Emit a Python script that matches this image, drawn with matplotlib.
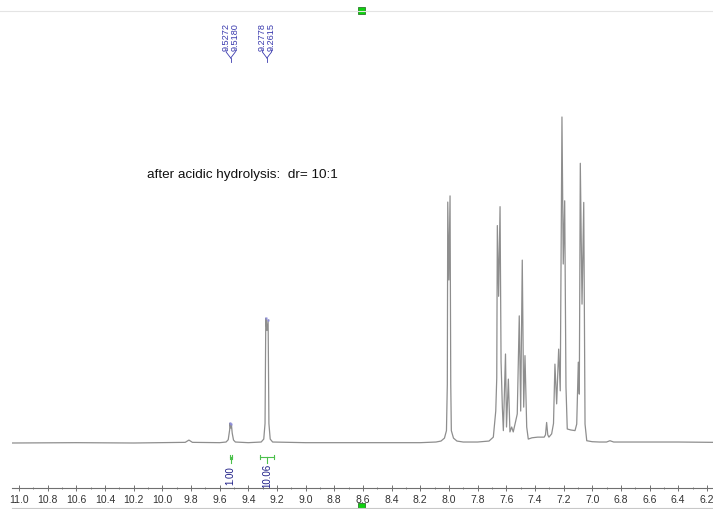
import matplotlib
matplotlib.use('Agg')
import matplotlib.pyplot as plt
from matplotlib.ticker import MultipleLocator, FormatStrFormatter
from matplotlib.transforms import blended_transform_factory
from matplotlib.patches import Rectangle
from matplotlib.lines import Line2D

plt.rcParams['font.family'] = ['Liberation Sans', 'DejaVu Sans']
NARROW = ['Liberation Sans Narrow', 'Liberation Sans', 'DejaVu Sans']

# 1H NMR trace: chemical shift (ppm) / relative intensity (tallest line = 100)
shift = [11.049, 10.60, 10.20, 9.84, 9.814, 9.79, 9.60, 9.555, 9.540, 9.530,
         9.5272, 9.5226, 9.5180, 9.512, 9.503, 9.490, 9.40, 9.310, 9.292, 9.283,
         9.2778, 9.2697, 9.2615, 9.256, 9.247, 9.230, 9.00, 8.60, 8.20, 8.09,
         8.055, 8.031, 8.017, 8.011, 8.008, 8.000, 7.992, 7.987, 7.983, 7.968,
         7.944, 7.90, 7.80, 7.72, 7.690, 7.673, 7.666, 7.662, 7.653, 7.643,
         7.636, 7.627, 7.620, 7.605, 7.598, 7.585, 7.574, 7.562, 7.551, 7.534,
         7.523, 7.509, 7.499, 7.488, 7.478, 7.469, 7.457, 7.446, 7.42, 7.38,
         7.335, 7.326, 7.318, 7.310, 7.302, 7.283, 7.270, 7.260, 7.248, 7.234,
         7.223, 7.211, 7.202, 7.192, 7.183, 7.174, 7.150, 7.120, 7.108, 7.097,
         7.090, 7.083, 7.071, 7.059, 7.050, 7.038, 7.00, 6.95, 6.90, 6.876,
         6.85, 6.60, 6.40, 6.157]
intensity = [0.0, 0.1, 0.0, 0.2, 0.9, 0.2, 0.1, 0.3, 1.0, 4.0,
             6.1, 4.6, 5.8, 3.0, 0.9, 0.3, 0.1, 0.3, 1.2, 6.0,
             38.3, 34.5, 37.8, 6.0, 1.2, 0.3, 0.1, 0.1, 0.1, 0.3,
             0.6, 1.5, 3.8, 18.0, 73.9, 50.0, 75.8, 18.0, 3.8, 1.5,
             0.6, 0.3, 0.3, 0.6, 1.8, 9.8, 20.0, 66.7, 45.0, 72.5,
             25.0, 11.0, 3.8, 27.3, 4.9, 19.6, 3.4, 4.9, 3.4, 6.7,
             8.9, 39.0, 9.8, 56.1, 11.0, 26.8, 4.9, 1.2, 1.6, 1.8,
             1.8, 2.5, 6.3, 2.5, 1.8, 2.8, 6.0, 24.2, 12.0, 28.8,
             16.0, 100.0, 54.9, 74.3, 17.2, 4.3, 4.0, 3.8, 5.8, 24.8,
             15.0, 85.8, 42.6, 73.8, 5.8, 0.7, 0.4, 0.3, 0.3, 0.7,
             0.3, 0.3, 0.3, 0.2]

# peak picking
peak_shift = [9.5272, 9.5180, 9.2778, 9.2615]
peak_height = [6.1, 5.8, 38.3, 37.8]
peak_labels = ['9.5272', '9.5180', '9.2778', '9.2615']

# integrals
integral_from = [9.528, 9.315]
integral_to = [9.516, 9.221]
integral_labels = ['1.00', '10.06']

note = 'after acidic hydrolysis:  dr= 10:1'

W, H = 713, 510
X0 = 12
fig = plt.figure(figsize=(W / 100, H / 100), dpi=100)

ax = fig.add_axes([X0 / W, 0, 1 - X0 / W, 1])
ax.set_xlim(11.0488, 6.157)
ax.set_ylim(-20.245, 136.196)
ax.axis('off')
ax.plot(shift, intensity, color='#8e8e8e', lw=0.9)
ax.plot(peak_shift, peak_height, ls='none', marker='s', ms=1.6, color='#8c8cdc', mec='none')

# y in figure pixels (from top), x in ppm
tr = blended_transform_factory(ax.transData, fig.transFigure)
def fy(y):
    return 1 - y / H

# peak labels with leader lines
blue = '#3a3aae'
for k in range(0, 4, 2):
    centre = (peak_shift[k] + peak_shift[k + 1]) / 2
    for j, dx in zip((k, k + 1), (0.032, -0.032)):
        lx = centre + dx
        ax.text(lx, fy(51), peak_labels[j], transform=tr, rotation=90, ha='center', va='bottom',
                fontsize=6.6, color=blue, family=NARROW)
        ax.add_line(Line2D([lx, lx, centre], [fy(51), fy(53), fy(59)], transform=tr, color=blue, lw=0.6))
    ax.add_line(Line2D([centre, centre], [fy(59), fy(63)], transform=tr, color=blue, lw=0.6))

# integrals
green = '#4cc04c'
for a, b, lab in zip(integral_from, integral_to, integral_labels):
    c = (a + b) / 2
    ax.add_line(Line2D([a, b], [fy(458), fy(458)], transform=tr, color=green, lw=0.8))
    ax.add_line(Line2D([a, a], [fy(456), fy(460)], transform=tr, color=green, lw=0.8))
    ax.add_line(Line2D([b, b], [fy(456), fy(460)], transform=tr, color=green, lw=0.8))
    ax.add_line(Line2D([c, c], [fy(458), fy(464)], transform=tr, color=green, lw=0.8))
    ax.text(c, fy(476), lab, transform=tr, rotation=90, ha='center', va='center',
            fontsize=7, color='#1c1c86', family=NARROW)

fig.text(147 / W, fy(175), note, fontsize=9.7, va='center', ha='left', color='#111111')

# ppm scale
sax = fig.add_axes([X0 / W, fy(489), 1 - X0 / W, 0.5 / H])
sax.set_xlim(ax.get_xlim())
sax.set_yticks([])
for s in ('top', 'left', 'right'):
    sax.spines[s].set_visible(False)
sax.spines['bottom'].set_color('#707070')
sax.spines['bottom'].set_linewidth(0.8)
sax.patch.set_alpha(0)
sax.xaxis.set_major_locator(MultipleLocator(0.2))
sax.xaxis.set_minor_locator(MultipleLocator(0.1))
sax.xaxis.set_major_formatter(FormatStrFormatter('%.1f'))
sax.tick_params(axis='x', which='major', direction='inout', length=4.5, width=0.7,
                color='#707070', pad=2, labelsize=7.5, labelcolor='#333333')
sax.tick_params(axis='x', which='minor', direction='inout', length=2, width=0.6, color='#707070')
for t in sax.get_xticklabels():
    t.set_family(NARROW)

# frame lines and green markers
fig.add_artist(Line2D([0, 1], [fy(12), fy(12)], transform=fig.transFigure, color='#e4e4e4', lw=0.8))
fig.add_artist(Line2D([X0 / W, 1], [fy(509), fy(509)], transform=fig.transFigure, color='#c8c8c8', lw=0.8))
for y0 in (8, 504):
    fig.add_artist(Rectangle((358 / W, fy(y0 + 7)), 7 / W, 7 / H, transform=fig.transFigure,
                             facecolor='#10d010', edgecolor='#2a7a2a', lw=0.6))

fig.savefig('out.png', dpi=100, facecolor='white')
